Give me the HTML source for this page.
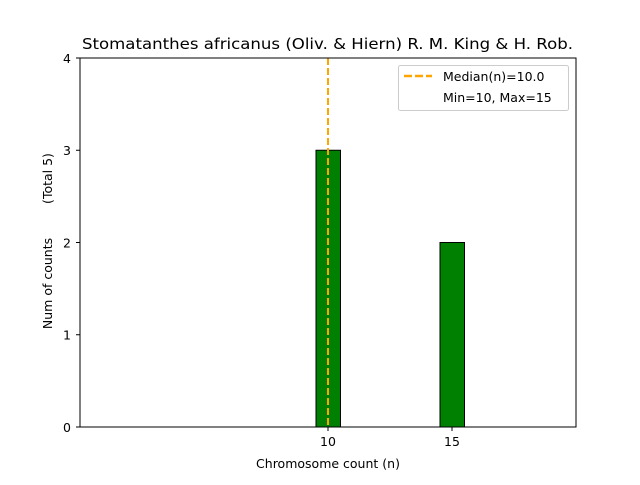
<!DOCTYPE html>
<html><head><style>body{margin:0;background:#fff}</style></head><body>
<svg width="640" height="480" xmlns="http://www.w3.org/2000/svg" font-family="DejaVu Sans, Liberation Sans, sans-serif">
<rect width="640" height="480" fill="#fff"/>
<text x="82" y="49" font-size="15.5" textLength="491" lengthAdjust="spacingAndGlyphs" fill="#000">Stomatanthes africanus (Oliv. &amp; Hiern) R. M. King &amp; H. Rob.</text>
<rect x="316" y="150.25" width="24.5" height="276.75" fill="#008000" stroke="#000" stroke-width="1"/>
<rect x="440" y="242.5" width="24.5" height="184.5" fill="#008000" stroke="#000" stroke-width="1"/>
<line x1="328" y1="58" x2="328" y2="427" stroke="#ffa500" stroke-width="2" stroke-dasharray="7,3"/>
<rect x="80" y="58" width="496" height="369" fill="none" stroke="#000" stroke-width="1"/>
<g font-size="12.5" fill="#000" text-anchor="end">
<line x1="76" y1="427" x2="80" y2="427" stroke="#000"/><text x="71" y="432">0</text>
<line x1="76" y1="334.75" x2="80" y2="334.75" stroke="#000"/><text x="71" y="339.5">1</text>
<line x1="76" y1="242.5" x2="80" y2="242.5" stroke="#000"/><text x="71" y="247.5">2</text>
<line x1="76" y1="150.25" x2="80" y2="150.25" stroke="#000"/><text x="71" y="155">3</text>
<line x1="76" y1="58" x2="80" y2="58" stroke="#000"/><text x="71" y="63">4</text>
</g>
<g font-size="12.5" fill="#000" text-anchor="middle">
<line x1="328" y1="427" x2="328" y2="431" stroke="#000"/><text x="328" y="446">10</text>
<line x1="452" y1="427" x2="452" y2="431" stroke="#000"/><text x="452" y="446">15</text>
<text x="328" y="468">Chromosome count (n)</text>
<text transform="translate(52,283.5) rotate(-90)">Num of counts</text>
<text transform="translate(52,178.5) rotate(-90)">(Total 5)</text>
</g>
<rect x="398.5" y="65.5" width="170" height="45" rx="2" fill="#fff" fill-opacity="0.8" stroke="#ccc"/>
<line x1="404" y1="76" x2="432" y2="76" stroke="#ffa500" stroke-width="2.5" stroke-dasharray="8,3"/>
<text x="443" y="81" font-size="12.5">Median(n)=10.0</text>
<text x="443" y="102" font-size="12.5">Min=10, Max=15</text>
</svg>
</body></html>
